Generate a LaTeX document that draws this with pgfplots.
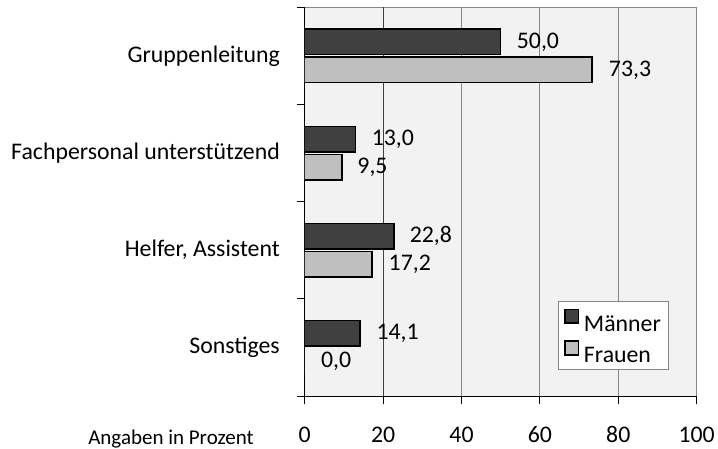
\documentclass[border=0pt]{standalone}
\usepackage{fontspec}
\setmainfont{Carlito}
\usepackage{pgfplots}
\pgfplotsset{compat=1.18}
\definecolor{maenner}{HTML}{404040}
\definecolor{frauen}{HTML}{BFBFBF}
\definecolor{plotbg}{HTML}{F2F2F2}
\definecolor{gridgray}{HTML}{868686}
\newcommand\chartfont{\fontsize{23.8bp}{28bp}\selectfont}

\begin{document}
\begin{tikzpicture}
\begin{axis}[
    scale only axis,
    width=392bp, height=388.7bp,
    xmin=0, xmax=100, ymin=-0.5, ymax=3.5,
    axis x line*=bottom, axis y line*=left,
    axis line style={black, line width=1bp},
    axis background/.style={fill=plotbg, draw=gridgray, line width=1bp},
    xtick={0,20,...,100},
    ytick={-0.5,0.5,1.5,2.5,3.5},
    yticklabels={},
    tick align=outside,
    major tick length=8bp,
    tick style={black, line width=0.8bp},
    xmajorgrids,
    grid style={gridgray, line width=1bp},
    extra x ticks={20},
    extra x tick labels={},
    extra x tick style={grid style={maenner, line width=1bp}},
    extra y ticks={0,1,2,3},
    extra y tick labels={Sonstiges,{Helfer, Assistent},Fachpersonal unterstützend,Gruppenleitung},
    extra y tick style={major tick length=0pt},
    yticklabel style={font=\chartfont, anchor=east, inner sep=0pt, xshift=-24.7bp},
    xticklabel style={font=\chartfont, anchor=north, inner sep=0pt,
        text height=15bp, text depth=0pt, yshift=-23bp},
    /pgf/number format/assume math mode=true,
    legend style={at={(0.6454,0.244)}, anchor=north west, draw=gridgray,
        line width=1bp, fill=white, font=\chartfont, row sep=9bp, column sep=3bp,
        inner xsep=6bp, inner ysep=7bp,
        nodes={inner xsep=1.5bp, inner ysep=0pt, text height=15bp, text depth=0pt}},
    legend cell align=left,
    legend image code/.code={\draw[#1, line width=1.5bp] (0.75bp,0.6bp) rectangle (14.55bp,14.4bp);},
]
\addplot[xbar, bar width=25.5bp, bar shift=14bp, fill=maenner, draw=black, line width=1.5bp]
    coordinates {(14.1,0) (22.8,1) (13.0,2) (50.0,3)};
\addplot[xbar, bar width=25.5bp, bar shift=-14bp, fill=frauen, draw=black, line width=1.5bp]
    coordinates {(0.0,0) (17.2,1) (9.5,2) (73.3,3)};
\legend{Männer, Frauen}

% value labels, placed where the original shows them
\addplot[draw=none, mark=none, forget plot, nodes near coords, point meta=explicit symbolic,
    nodes near coords align={center},
    every node near coord/.append style={font=\chartfont, inner sep=0pt}]
    coordinates {
        (59.5,3.144) [50,0]
        (83.0,2.856) [73,3]
        (22.5,2.144) [13,0]
        (17.3,1.856) [9,5]
        (32.2,1.144) [22,8]
        (26.8,0.856) [17,2]
        (23.7,0.144) [14,1]
        (8.0,-0.144) [0,0]
    };
\coordinate (O) at (rel axis cs:0,0);
\end{axis}
\node[font=\fontsize{21bp}{25bp}\selectfont, anchor=base] at ([xshift=-133.7bp, yshift=-48bp]O) {Angaben in Prozent};
\pgfresetboundingbox
\path[use as bounding box] (O) ++(-304.7bp,-53bp) rectangle ++(718bp,449bp);
\end{tikzpicture}
\end{document}
